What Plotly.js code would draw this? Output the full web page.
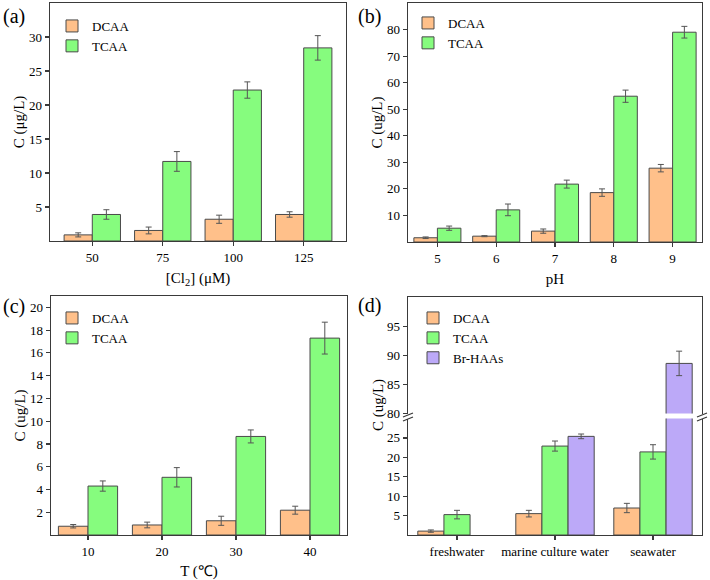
<!DOCTYPE html>
<html>
<head>
<meta charset="utf-8">
<script src="https://cdn.plot.ly/plotly-3.0.1.min.js"></script>
<style>html,body{margin:0;padding:0;background:#fff}#chart{width:710px;height:580px}</style>
</head>
<body>
<div id="chart"></div>
<script>
// ---------- data ----------
const catsA = ['50', '75', '100', '125'];
const dcaaA = [0.9, 1.55, 3.2, 3.9];
const dcaaAErr = [0.3, 0.5, 0.6, 0.4];
const tcaaA = [3.9, 11.7, 22.2, 28.4];
const tcaaAErr = [0.7, 1.45, 1.2, 1.8];

const catsB = ['5', '6', '7', '8', '9'];
const dcaaB = [1.6, 2.2, 4.1, 18.6, 27.8];
const dcaaBErr = [0.3, 0.2, 0.8, 1.4, 1.4];
const tcaaB = [5.2, 12.1, 21.8, 54.9, 79.0];
const tcaaBErr = [0.8, 2.2, 1.5, 2.3, 2.2];

const catsC = ['10', '20', '30', '40'];
const dcaaC = [0.77, 0.88, 1.25, 2.18];
const dcaaCErr = [0.15, 0.25, 0.4, 0.35];
const tcaaC = [4.3, 5.07, 8.66, 17.3];
const tcaaCErr = [0.45, 0.85, 0.57, 1.4];

const catsD = ['freshwater', 'marine culture water', 'seawater'];
const dcaaD = [1.0, 5.5, 6.95];
const dcaaDErr = [0.3, 0.85, 1.2];
const tcaaD = [5.25, 22.9, 21.4];
const tcaaDErr = [1.1, 1.3, 1.85];
const brD = [null, 25.4, 88.6];
const brDErr = [0, 0.6, 2.1];

const ticksA = [5, 10, 15, 20, 25, 30];
const ticksB = [10, 20, 30, 40, 50, 60, 70, 80];
const ticksC = [2, 4, 6, 8, 10, 12, 14, 16, 18, 20];
const ticksDLow = [5, 10, 15, 20, 25];
const ticksDHigh = [80, 85, 90, 95];

// ---------- style ----------
const W = 710, H = 580;
const px = x => x / W;
const py = y => 1 - y / H;
const FONT = 'Liberation Serif, Times New Roman, serif';
const C_D = '#FFC08A', C_T = '#86FC7E', C_B = '#BCA9F8';
const EDGE = '#4a4a4a', AX = '#3a3a3a';

function bar(name, x, y, err, color, xa, ya, leg, show) {
  return {
    type: 'bar', name: name, x: x, y: y,
    xaxis: xa, yaxis: ya, legend: leg, showlegend: show,
    marker: {color: color, line: {color: EDGE, width: 1}},
    error_y: {type: 'data', array: err, visible: true, color: '#555', thickness: 1, width: 3}
  };
}

const data = [
  bar('DCAA', catsA, dcaaA, dcaaAErr, C_D, 'x', 'y', 'legend', true),
  bar('TCAA', catsA, tcaaA, tcaaAErr, C_T, 'x', 'y', 'legend', true),
  bar('DCAA', catsB, dcaaB, dcaaBErr, C_D, 'x2', 'y2', 'legend2', true),
  bar('TCAA', catsB, tcaaB, tcaaBErr, C_T, 'x2', 'y2', 'legend2', true),
  bar('DCAA', catsC, dcaaC, dcaaCErr, C_D, 'x3', 'y3', 'legend3', true),
  bar('TCAA', catsC, tcaaC, tcaaCErr, C_T, 'x3', 'y3', 'legend3', true),
  bar('DCAA', catsD, dcaaD, dcaaDErr, C_D, 'x4', 'y4', 'legend4', true),
  bar('TCAA', catsD, tcaaD, tcaaDErr, C_T, 'x4', 'y4', 'legend4', true),
  bar('Br-HAAs', catsD, brD, brDErr, C_B, 'x4', 'y4', 'legend4', true),
  // upper segment of the broken axis in (d)
  bar('DCAA', catsD, dcaaD, dcaaDErr, C_D, 'x5', 'y5', 'legend4', false),
  bar('TCAA', catsD, tcaaD, tcaaDErr, C_T, 'x5', 'y5', 'legend4', false),
  bar('Br-HAAs', catsD, brD, brDErr, C_B, 'x5', 'y5', 'legend4', false)
];

const tickfont = {family: FONT, size: 13, color: '#000'};
const titlefont = {family: FONT, size: 15, color: '#000'};

function xax(dom, anchor, cats, range, title) {
  const a = {
    domain: dom, anchor: anchor, type: 'category', categoryorder: 'array', categoryarray: cats,
    range: range, showline: true, linecolor: AX, linewidth: 1.3, mirror: true,
    ticks: 'outside', ticklen: 4, tickwidth: 1.2, tickcolor: AX,
    tickfont: tickfont, showgrid: false, zeroline: false, fixedrange: true
  };
  if (title) a.title = {text: title, font: titlefont, standoff: 8};
  return a;
}
function yax(dom, anchor, range, tv, title) {
  const a = {
    domain: dom, anchor: anchor, range: range, tickvals: tv, ticktext: tv.map(String),
    showline: true, linecolor: AX, linewidth: 1.3, mirror: true,
    ticks: 'outside', ticklen: 4, tickwidth: 1.2, tickcolor: AX,
    tickfont: tickfont, showgrid: false, zeroline: false, fixedrange: true
  };
  if (title) a.title = {text: title, font: titlefont, standoff: 0};
  return a;
}

const xa4 = xax([px(408), px(702)], 'y4', catsD, [-0.5, 2.5], null);
xa4.mirror = false;
const xa5 = xax([px(408), px(702)], 'y5', catsD, [-0.5, 2.5], null);
xa5.side = 'top'; xa5.mirror = false; xa5.ticks = ''; xa5.showticklabels = false;

const legBase = {
  bgcolor: 'rgba(0,0,0,0)', borderwidth: 0, xanchor: 'left', yanchor: 'top',
  font: {family: FONT, size: 13, color: '#000'}, itemclick: false, itemdoubleclick: false
};

function brk(x, y) {
  return [
    {type: 'line', xref: 'paper', yref: 'paper', x0: px(x - 5), y0: py(y + 1), x1: px(x + 5), y1: py(y - 3), line: {color: AX, width: 1.2}},
    {type: 'line', xref: 'paper', yref: 'paper', x0: px(x - 5), y0: py(y + 5), x1: px(x + 5), y1: py(y + 1), line: {color: AX, width: 1.2}}
  ];
}

const lab = (t, x, y) => ({text: t, xref: 'paper', yref: 'paper', x: px(x), y: py(y), xanchor: 'left', yanchor: 'middle', showarrow: false, font: {family: FONT, size: 20, color: '#000'}});

const layout = {
  width: W, height: H, margin: {l: 0, r: 0, t: 0, b: 0},
  paper_bgcolor: '#fff', plot_bgcolor: '#fff',
  barmode: 'group', bargap: 0.2, bargroupgap: 0,
  font: {family: FONT, color: '#000'},
  xaxis: xax([px(50), px(346)], 'y', catsA, [-0.6, 3.6], '[Cl<sub>2</sub>] (μM)'),
  yaxis: yax([py(241), py(3)], 'x', [0, 35], ticksA, 'C (μg/L)'),
  xaxis2: xax([px(408), px(702)], 'y2', catsB, [-0.5, 4.5], 'pH'),
  yaxis2: yax([py(242), py(3)], 'x2', [0, 90], ticksB, 'C (ug/L)'),
  xaxis3: xax([px(51), px(347)], 'y3', catsC, [-0.5, 3.5], 'T (℃)'),
  yaxis3: yax([py(535), py(296)], 'x3', [0, 21], ticksC, 'C (ug/L)'),
  xaxis4: xa4,
  yaxis4: yax([py(535), py(418.5)], 'x4', [0, 30], ticksDLow, null),
  xaxis5: xa5,
  yaxis5: yax([py(413.5), py(297)], 'x5', [80, 100], ticksDHigh, null),
  legend: Object.assign({}, legBase, {x: px(52), y: py(11)}),
  legend2: Object.assign({}, legBase, {x: px(408), y: py(8)}),
  legend3: Object.assign({}, legBase, {x: px(52), y: py(303)}),
  legend4: Object.assign({}, legBase, {x: px(413), y: py(303)}),
  annotations: [
    lab('(a)', 1, 16), lab('(b)', 356, 16), lab('(c)', 1, 306), lab('(d)', 356, 305),
    {text: 'C (ug/L)', xref: 'paper', yref: 'paper', x: px(378), y: py(405), xanchor: 'center', yanchor: 'middle', textangle: -90, showarrow: false, font: titlefont}
  ],
  shapes: [].concat(brk(408, 416), brk(702, 416))
};

Plotly.newPlot('chart', data, layout, {staticPlot: true, displayModeBar: false});
</script>
</body>
</html>
